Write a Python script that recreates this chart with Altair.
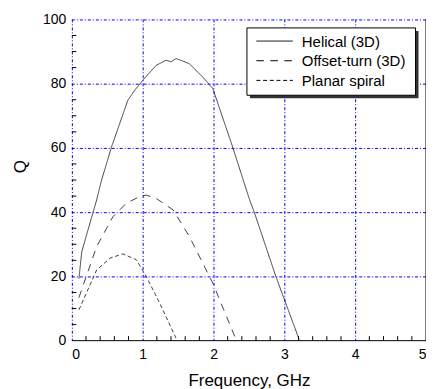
import altair as alt
import pandas as pd

helical_x = [0.1, 0.14, 0.35, 0.42, 0.56, 0.79, 0.89, 0.98, 1.08, 1.19, 1.33, 1.40, 1.47, 1.55, 1.66, 1.85, 1.99, 2.27, 2.51, 2.58, 2.88, 3.21]
helical_q = [19.3, 27.7, 43.8, 50.0, 60.3, 74.8, 78.0, 80.5, 83.0, 85.7, 87.3, 86.8, 87.8, 87.2, 86.2, 82.0, 78.5, 60.3, 43.8, 39.7, 20.0, 0.3]

offset_x = [0.1, 0.35, 0.58, 0.77, 0.98, 1.05, 1.19, 1.43, 1.66, 1.99, 2.30]
offset_q = [13.4, 29.3, 38.6, 42.8, 45.1, 45.3, 44.3, 40.7, 32.4, 17.9, 1.3]

planar_x = [0.1, 0.35, 0.54, 0.72, 0.91, 1.05, 1.24, 1.47]
planar_q = [9.6, 22.0, 25.7, 27.0, 25.2, 20.0, 11.7, 0.8]

series = ["Helical (3D)", "Offset-turn (3D)", "Planar spiral"]
dashes = [[1, 0], [7.5, 6.5], [4, 2.7]]

x_major = [0, 1, 2, 3, 4, 5]
x_grid = [0, 1, 2, 3, 4]
x_minor = [round(0.2 * i, 1) for i in range(26) if i % 5 != 0]
y_major = [0, 20, 40, 60, 80, 100]
y_grid = [20, 40, 60, 80, 100]
y_minor = [5, 10, 15, 25, 30, 35, 45, 50, 55, 65, 70, 75, 85, 90, 95]

rows = []
for name, xs, qs in zip(series, [helical_x, offset_x, planar_x], [helical_q, offset_q, planar_q]):
    for i, (xv, qv) in enumerate(zip(xs, qs)):
        rows.append({"series": name, "f": xv, "Q": qv, "order": i})
df = pd.DataFrame(rows)

FONT = "Liberation Sans"
BLUE = "#0000ff"
GRID_DASH = [3, 2, 1, 2]
W, H = 355, 322

xscale = alt.Scale(domain=[0, 5], nice=False, zero=False)
yscale = alt.Scale(domain=[0, 100], nice=False, zero=False)

lines = alt.Chart(df).mark_line(color="#222222", strokeWidth=0.85).encode(
    x=alt.X("f:Q", scale=xscale, axis=alt.Axis(values=x_major, format="d", ticks=False, domain=False,
                                                 grid=False, labelPadding=7, labelFontSize=14, labelColor="black",
                                                 title="Frequency, GHz", titleFontSize=17, titleFontWeight="normal",
                                                 titleColor="black", titlePadding=11)),
    y=alt.Y("Q:Q", scale=yscale, axis=alt.Axis(values=y_major, format="d", ticks=False, domain=False,
                                                 grid=False, labelPadding=6, labelFontSize=14, labelColor="black",
                                                 title="Q", titleFontSize=17, titleFontWeight="normal",
                                                 titleColor="black", titleX=-51, titleY=147, titleBaseline="middle")),
    strokeDash=alt.StrokeDash("series:N", scale=alt.Scale(domain=series, range=dashes), legend=None),
    order="order:Q",
)

gx = alt.Chart(pd.DataFrame({"f": x_grid})).mark_rule(color=BLUE, strokeDash=GRID_DASH, strokeWidth=1,
                                                      xOffset=0.5).encode(
    x=alt.X("f:Q", scale=xscale))
gy = alt.Chart(pd.DataFrame({"Q": y_grid})).mark_rule(color=BLUE, strokeDash=GRID_DASH, strokeWidth=1,
                                                      yOffset=0.5).encode(
    y=alt.Y("Q:Q", scale=yscale))

one = pd.DataFrame({"k": [0]})
frame_b = alt.Chart(one).mark_rule(color="black", strokeWidth=1).encode(
    x=alt.value(0), x2=alt.value(W), y=alt.value(H))
frame_r = alt.Chart(one).mark_rule(color="black", strokeWidth=1).encode(
    x=alt.value(W), y=alt.value(0), y2=alt.value(H))

mx = alt.Chart(pd.DataFrame({"f": x_minor})).mark_rule(color="black", strokeWidth=1).encode(
    x=alt.X("f:Q", scale=xscale), y=alt.value(H), y2=alt.value(H - 4.5))
my = alt.Chart(pd.DataFrame({"Q": y_minor})).mark_rule(color="black", strokeWidth=1).encode(
    y=alt.Y("Q:Q", scale=yscale), x=alt.value(0), x2=alt.value(4.5))

# legend box (shadow + white box) and entries
LX0, LX1, LY0, LY1 = 175.5, 344.5, 8.5, 76
shadow = alt.Chart(one).mark_rect(color="#333333").encode(
    x=alt.value(LX0 + 3), x2=alt.value(LX1 + 3), y=alt.value(LY0 + 3), y2=alt.value(LY1 + 3))
box = alt.Chart(one).mark_rect(fill="white", stroke="black", strokeWidth=1).encode(
    x=alt.value(LX0), x2=alt.value(LX1), y=alt.value(LY0), y2=alt.value(LY1))

legend_layers = []
for i, (name, dash) in enumerate(zip(series, dashes)):
    yy = 21.7 + 19.7 * i
    legend_layers.append(alt.Chart(one).mark_rule(color="black", strokeWidth=1, strokeDash=dash).encode(
        x=alt.value(185), x2=alt.value(221.5), y=alt.value(yy)))
    legend_layers.append(alt.Chart(one).mark_text(text=name, align="left", baseline="middle", fontSize=15,
                                                  font=FONT, color="black").encode(
        x=alt.value(230.5), y=alt.value(yy + 0.5)))

chart = alt.layer(lines, gx, gy, frame_b, frame_r, mx, my, shadow, box, *legend_layers).properties(
    width=W, height=H,
    autosize=alt.AutoSizeParams(type="none"),
    padding={"left": 64, "top": 11, "right": 0, "bottom": 48},
).configure(font=FONT).configure_view(stroke=None)

chart.save("out.html", embed_options={"renderer": "svg", "actions": False})
